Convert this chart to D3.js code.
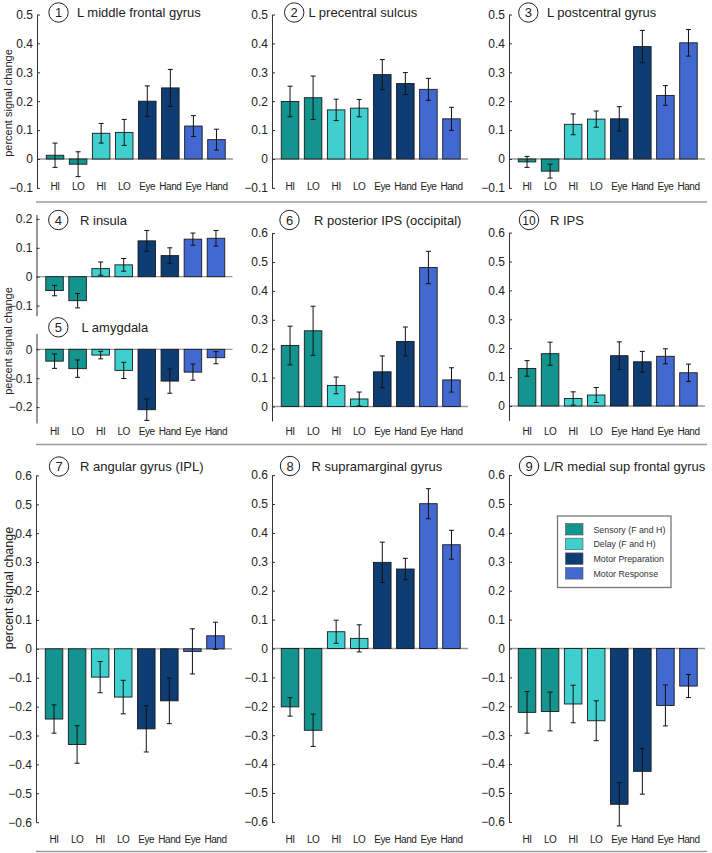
<!DOCTYPE html>
<html><head><meta charset="utf-8">
<script src="https://cdn.jsdelivr.net/npm/d3@7"></script>
<style>
html,body{margin:0;padding:0;background:#fff;}
svg{display:block;font-family:"Liberation Sans",Arial,Helvetica,sans-serif;}
</style></head>
<body>
<svg id="chart" width="712" height="853"></svg>
<script>
// ---------- data ----------
const categories = ["HI","LO","HI","LO","Eye","Hand","Eye","Hand"];
const phaseNames = ["Sensory (F and H)","Delay (F and H)","Motor Preparation","Motor Response"];
const phaseOfBar = [0,0,1,1,2,2,3,3];
const phaseColors = ["#14948f","#3fcfcf","#0d3d73","#4169d0"];

const p1Values = [0.013,-0.018,0.089,0.092,0.200,0.246,0.114,0.067];
const p1Errors = [0.042,0.043,0.034,0.045,0.053,0.064,0.036,0.036];
const p2Values = [0.199,0.212,0.170,0.176,0.292,0.261,0.241,0.139];
const p2Errors = [0.053,0.075,0.037,0.030,0.052,0.038,0.038,0.040];
const p3Values = [-0.010,-0.042,0.120,0.138,0.139,0.389,0.220,0.402];
const p3Errors = [0.019,0.024,0.036,0.028,0.042,0.056,0.034,0.046];
const p4Values = [-0.048,-0.083,0.028,0.041,0.124,0.073,0.130,0.133];
const p4Errors = [0.018,0.025,0.023,0.022,0.036,0.027,0.021,0.027];
const p5Values = [-0.041,-0.067,-0.020,-0.073,-0.209,-0.110,-0.079,-0.029];
const p5Errors = [0.025,0.030,0.013,0.028,0.037,0.042,0.028,0.021];
const p6Values = [0.211,0.262,0.073,0.026,0.120,0.225,0.481,0.092];
const p6Errors = [0.067,0.085,0.029,0.024,0.055,0.050,0.056,0.042];
const p10Values = [0.130,0.181,0.026,0.038,0.174,0.153,0.172,0.115];
const p10Errors = [0.027,0.040,0.023,0.026,0.048,0.036,0.026,0.030];
const p7Values = [-0.243,-0.331,-0.098,-0.167,-0.277,-0.180,-0.009,0.045];
const p7Errors = [0.049,0.065,0.054,0.058,0.080,0.079,0.078,0.047];
const p8Values = [-0.202,-0.283,0.058,0.035,0.298,0.275,0.501,0.359];
const p8Errors = [0.032,0.056,0.040,0.047,0.070,0.037,0.052,0.050];
const p9Values = [-0.221,-0.218,-0.192,-0.250,-0.539,-0.425,-0.197,-0.130];
const p9Errors = [0.072,0.067,0.065,0.069,0.075,0.079,0.071,0.040];

const ticksTop = [-0.1,0,0.1,0.2,0.3,0.4,0.5];
const ticks4 = [-0.1,0,0.1,0.2];
const ticks5 = [-0.2,-0.1,0];
const ticksMid = [0,0.1,0.2,0.3,0.4,0.5,0.6];
const ticksBottom = [-0.6,-0.5,-0.4,-0.3,-0.2,-0.1,0,0.1,0.2,0.3,0.4,0.5,0.6];

// ---------- layout ----------
const K = 289; // px per unit
const panels = [
  {num:"1", title:"L middle frontal gyrus", values:p1Values, errors:p1Errors, ax:37, y0:159, domain:[-0.1,0.5], ticks:ticksTop, cx:58.5, cy:12.5, tx:77, labelY:192},
  {num:"2", title:"L precentral sulcus", values:p2Values, errors:p2Errors, ax:272, y0:159, domain:[-0.1,0.5], ticks:ticksTop, cx:294.2, cy:12.5, tx:308.5, labelY:192},
  {num:"3", title:"L postcentral gyrus", values:p3Values, errors:p3Errors, ax:509, y0:159, domain:[-0.1,0.5], ticks:ticksTop, cx:528.3, cy:12.5, tx:547, labelY:192},
  {num:"4", title:"R insula", values:p4Values, errors:p4Errors, ax:36.5, y0:276.7, domain:[-0.135,0.215], ticks:ticks4, cx:58.3, cy:220, tx:80, labelY:null},
  {num:"5", title:"L amygdala", values:p5Values, errors:p5Errors, ax:36.5, y0:349.3, domain:[-0.255,0.055], ticks:ticks5, cx:58.3, cy:327.3, tx:81.5, labelY:437},
  {num:"6", title:"R posterior IPS (occipital)", values:p6Values, errors:p6Errors, ax:272, y0:406.5, domain:[-0.05,0.6], ticks:ticksMid, cx:289.5, cy:220, tx:314, labelY:437},
  {num:"10", title:"R IPS", values:p10Values, errors:p10Errors, ax:509, y0:406, domain:[-0.05,0.6], ticks:ticksMid, cx:529, cy:220, tx:550, labelY:437},
  {num:"7", title:"R angular gyrus (IPL)", values:p7Values, errors:p7Errors, ax:36, y0:648.8, domain:[-0.6,0.6], ticks:ticksBottom, cx:59, cy:466.5, tx:80, labelY:845},
  {num:"8", title:"R supramarginal gyrus", values:p8Values, errors:p8Errors, ax:272, y0:648.5, domain:[-0.6,0.6], ticks:ticksBottom, cx:290, cy:466, tx:311.5, labelY:845},
  {num:"9", title:"L/R medial sup frontal gyrus", values:p9Values, errors:p9Errors, ax:509, y0:648.5, domain:[-0.6,0.6], ticks:ticksBottom, cx:529, cy:466, tx:543.5, labelY:845}
];

const svg = d3.select("#chart");
svg.append("rect").attr("width",712).attr("height",853).attr("fill","#fff");

const fmt = d => d === 0 ? "0" : d3.format(".1f")(d);

panels.forEach(p => {
  const g = svg.append("g");
  const x = d3.scaleBand().domain(d3.range(categories.length))
      .range([p.ax + 6.5, p.ax + 191]).paddingInner(0.24).paddingOuter(0.12);
  const y = d3.scaleLinear().domain(p.domain)
      .range([p.y0 - K*p.domain[0], p.y0 - K*p.domain[1]]);

  // zero line
  g.append("line").attr("x1", p.ax).attr("x2", p.ax + 196)
    .attr("y1", y(0)).attr("y2", y(0))
    .attr("stroke", "#9a9a9a").attr("stroke-width", 1.3);

  // y axis
  const yAxis = d3.axisLeft(y).tickValues(p.ticks).tickFormat(fmt)
      .tickSizeInner(-3).tickSizeOuter(0).tickPadding(4);
  const ya = g.append("g").attr("transform", `translate(${p.ax},0)`).call(yAxis);
  ya.select(".domain").attr("stroke", "#333").attr("stroke-width", 1);
  ya.selectAll(".tick line").attr("stroke", "#333");
  ya.selectAll(".tick text").attr("font-size", 12).attr("fill", "#222")
    .attr("font-family", '"Liberation Sans",Arial,sans-serif');

  // bars
  g.selectAll("rect.bar").data(p.values).join("rect")
    .attr("class","bar")
    .attr("x", (d,i) => x(i))
    .attr("width", x.bandwidth())
    .attr("y", d => y(Math.max(0,d)))
    .attr("height", d => Math.abs(y(d) - y(0)))
    .attr("fill", (d,i) => phaseColors[phaseOfBar[i]])
    .attr("stroke", "#1a1a1a").attr("stroke-width", 0.9);

  // error bars
  const eb = g.selectAll("g.err").data(p.values).join("g").attr("class","err");
  eb.append("line")
    .attr("x1", (d,i) => x(i) + x.bandwidth()/2).attr("x2", (d,i) => x(i) + x.bandwidth()/2)
    .attr("y1", (d,i) => y(d + p.errors[i])).attr("y2", (d,i) => y(d - p.errors[i]))
    .attr("stroke", "#111").attr("stroke-width", 1);
  [1,-1].forEach(s => {
    eb.append("line")
      .attr("x1", (d,i) => x(i) + x.bandwidth()/2 - 2.5).attr("x2", (d,i) => x(i) + x.bandwidth()/2 + 2.5)
      .attr("y1", (d,i) => y(d + s*p.errors[i])).attr("y2", (d,i) => y(d + s*p.errors[i]))
      .attr("stroke", "#111").attr("stroke-width", 1);
  });

  // x labels
  if (p.labelY !== null) {
    const xAxis = d3.axisBottom(x).tickFormat(i => categories[i]).tickSize(0).tickPadding(0);
    const xa = g.append("g").attr("transform", `translate(0,${p.labelY - 9})`).call(xAxis);
    xa.select(".domain").remove();
    xa.selectAll(".tick text").attr("font-size", 10).attr("fill", "#222")
      .attr("letter-spacing", "-0.45px")
      .attr("font-family", '"Liberation Sans",Arial,sans-serif');
  }

  // title
  g.append("circle").attr("cx", p.cx).attr("cy", p.cy).attr("r", 9.7)
    .attr("fill", "#fff").attr("stroke", "#222").attr("stroke-width", 1);
  g.append("text").attr("x", p.cx).attr("y", p.cy + 4.6).attr("text-anchor","middle")
    .attr("font-size", p.num.length > 1 ? 12 : 13).attr("fill","#222").text(p.num);
  g.append("text").attr("x", p.tx).attr("y", p.cy + 4.6)
    .attr("font-size", 13).attr("fill","#222").text(p.title);
});

// y axis titles
const yTitles = [
  {x:8, y:103, size:11},
  {x:8, y:341, size:11},
  {x:8.5, y:588, size:12.5}
];
yTitles.forEach(t => {
  svg.append("text")
    .attr("transform", `translate(${t.x},${t.y}) rotate(-90)`)
    .attr("text-anchor","middle").attr("dy","0.35em")
    .attr("font-size", t.size).attr("fill","#222").text("percent signal change");
});

// row separators
[202, 444.5, 851.5].forEach(yy => {
  svg.append("line").attr("x1", 36).attr("x2", 707).attr("y1", yy).attr("y2", yy)
    .attr("stroke", "#9a9a9a").attr("stroke-width", 1.5);
});

// legend
const lg = svg.append("g").attr("transform","translate(557.5,516)");
lg.append("rect").attr("width", 113.5).attr("height", 71.5)
  .attr("fill","#fff").attr("stroke","#777").attr("stroke-width",1.3);
phaseNames.forEach((n,i) => {
  lg.append("rect").attr("x", 8).attr("y", 7.5 + i*14.7).attr("width", 17.5).attr("height", 11.5)
    .attr("fill", phaseColors[i]).attr("stroke","#555").attr("stroke-width",0.6);
  lg.append("text").attr("x", 36).attr("y", 16.5 + i*14.7)
    .attr("font-size", 8.8).attr("fill","#333").text(n);
});
</script>
</body></html>
